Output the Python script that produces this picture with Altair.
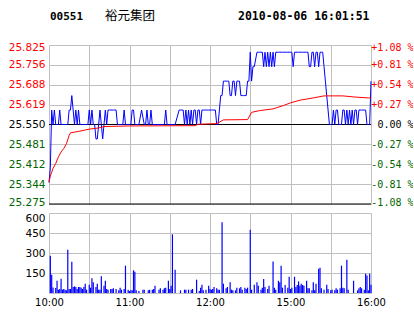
import altair as alt
import pandas as pd

stock_code = "00551"
stock_name = "裕元集团"
timestamp = "2010-08-06 16:01:51"

prev_close = 25.55
price_ticks = [25.275, 25.34375, 25.4125, 25.48125, 25.55, 25.61875, 25.6875, 25.75625, 25.825]
price_tick_labels = ["25.275", "25.344", "25.412", "25.481", "25.550", "25.619", "25.688", "25.756", "25.825"]
pct_tick_labels = ["-1.08 %", "-0.81 %", "-0.54 %", "-0.27 %", "0.00 %", "+0.27 %", "+0.54 %", "+0.81 %", "+1.08 %"]
volume_ticks = [0, 150, 300, 450, 600]
grid_minutes = [0, 30, 60, 90, 120, 150, 180, 210, 240]
time_labels = {0: "10:00", 60: "11:00", 120: "12:00", 180: "15:00", 240: "16:00"}
black_lines = [25.55, 25.275]

minutes = list(range(241))

price = [
    25.35, 25.40, 25.60, 25.55, 25.60, 25.55, 25.55, 25.55, 25.60, 25.55,
    25.55, 25.55, 25.55, 25.55, 25.55, 25.60, 25.60, 25.65, 25.60, 25.55,
    25.60, 25.55, 25.60, 25.55, 25.55, 25.55, 25.55, 25.55, 25.55, 25.55,
    25.60, 25.55, 25.60, 25.55, 25.55, 25.50, 25.50, 25.55, 25.60, 25.55,
    25.50, 25.55, 25.60, 25.55, 25.60, 25.60, 25.60, 25.60, 25.60, 25.60,
    25.60, 25.55, 25.55, 25.55, 25.55, 25.55, 25.60, 25.55, 25.55, 25.55,
    25.55, 25.55, 25.60, 25.60, 25.55, 25.55, 25.55, 25.55, None, 25.60,
    None, 25.55, 25.55, 25.60, 25.55, 25.55, 25.60, 25.55, 25.55, 25.55,
    25.55, 25.55, 25.55, 25.55, 25.55, 25.55, 25.55, 25.60, 25.55, 25.55,
    25.55, 25.55, 25.55, 25.55, 25.55, None, None, 25.60, 25.60, 25.60,
    25.60, 25.55, 25.60, 25.55, 25.60, 25.55, 25.60, 25.55, 25.60, 25.60,
    25.55, 25.60, 25.60, 25.55, 25.60, 25.60, 25.60, 25.60, 25.60, 25.60,
    25.60, 25.60, 25.60, 25.60, 25.60, 25.55, 25.55, 25.60, 25.65, 25.65,
    25.70, 25.70, 25.70, 25.70, 25.70, 25.65, 25.65, 25.70, 25.70, 25.65,
    25.70, 25.70, 25.70, 25.65, 25.65, 25.65, 25.65, 25.65, 25.70, 25.70,
    25.80, 25.70, 25.75, 25.75, None, 25.80, 25.80, 25.80, 25.80, 25.80,
    25.75, 25.80, 25.75, 25.80, 25.75, 25.80, 25.75, 25.80, 25.75, 25.80,
    25.80, 25.80, 25.80, 25.80, 25.80, 25.80, 25.80, 25.80, 25.80, 25.80,
    25.80, 25.80, 25.75, 25.80, 25.80, 25.80, 25.80, 25.80, 25.80, 25.80,
    25.80, 25.80, 25.80, 25.80, 25.75, 25.75, 25.80, 25.80, 25.75, 25.80,
    25.80, 25.75, 25.80, 25.80, 25.80, 25.75, 25.70, 25.65, 25.60, 25.55,
    25.55, 25.55, 25.60, 25.55, 25.60, 25.60, 25.55, 25.55, 25.55, 25.60,
    25.60, 25.55, 25.60, 25.55, 25.60, 25.55, 25.60, 25.55, 25.60, 25.60,
    25.55, 25.60, 25.60, 25.60, 25.60, 25.60, 25.60, 25.55, 25.55, 25.55,
    25.70,
]

avg_minutes = [0, 1, 3, 5, 7, 9, 11, 13, 15, 16, 23, 30, 37, 41, 60, 109, 111,
               125, 130, 148, 151, 157, 167, 175, 180, 187, 197, 205, 219, 228, 238, 240]
avg_price = [25.350, 25.372, 25.398, 25.415, 25.438, 25.455, 25.467, 25.484, 25.512,
             25.521, 25.527, 25.534, 25.538, 25.543, 25.545, 25.546, 25.551, 25.553,
             25.566, 25.567, 25.592, 25.598, 25.604, 25.616, 25.625, 25.634, 25.642,
             25.649, 25.649, 25.645, 25.642, 25.642]

volume = [
    0, 280, 137, 42, 0, 37, 92, 25, 30, 107,
    25, 30, 25, 20, 325, 30, 30, 235, 45, 50,
    45, 30, 45, 45, 40, 30, 45, 70, 25, 0,
    62, 40, 110, 80, 0, 45, 70, 25, 25, 125,
    0, 55, 92, 30, 25, 0, 30, 30, 35, 0,
    30, 0, 20, 40, 25, 0, 30, 205, 0, 25,
    15, 20, 20, 170, 160, 20, 0, 15, 0, 0,
    25, 25, 0, 0, 20, 25, 0, 25, 30, 55,
    0, 0, 25, 35, 0, 25, 35, 40, 0, 92,
    30, 55, 440, 0, 175, 0, 0, 0, 20, 0,
    0, 25, 25, 0, 25, 0, 25, 30, 0, 0,
    100, 0, 15, 40, 62, 20, 0, 25, 0, 55,
    30, 25, 30, 45, 0, 35, 25, 25, 0, 530,
    70, 0, 35, 45, 0, 80, 25, 20, 0, 20,
    40, 0, 35, 45, 25, 0, 40, 30, 40, 0,
    475, 25, 0, 62, 0, 80, 55, 0, 25, 40,
    105, 45, 0, 30, 55, 0, 0, 237, 40, 25,
    0, 92, 80, 205, 40, 0, 60, 0, 40, 122,
    30, 40, 0, 122, 45, 60, 87, 55, 70, 60,
    55, 0, 92, 35, 35, 0, 20, 80, 20, 70,
    0, 182, 190, 35, 0, 25, 0, 62, 30, 0,
    20, 25, 0, 20, 35, 25, 0, 35, 205, 40,
    35, 0, 250, 25, 0, 0, 0, 92, 0, 0,
    20, 35, 45, 35, 0, 25, 145, 132, 20, 145,
    62,
]

GRID = "#c0c0c0"
RED = "#ff0000"
GREEN = "#006600"
BLUE = "#0000ff"
LABEL_FONT = "DejaVu Sans"
MONO = "DejaVu Sans Mono"

df_price = pd.DataFrame({"t": minutes, "price": price}).dropna()
df_avg = pd.DataFrame({"t": avg_minutes, "avg": avg_price})
df_vol = pd.DataFrame({"t": minutes, "vol": volume})
df_vol = df_vol[df_vol["vol"] > 0]
df_lines = pd.DataFrame({"level": black_lines})


def lookup_expr(values, labels):
    return " : ".join(f"datum.value == {v} ? '{l}'" for v, l in zip(values, labels)) + " : ''"


color_expr = {"expr": f"datum.value > {prev_close + 0.001} ? '{RED}' : (datum.value < {prev_close - 0.001} ? '{GREEN}' : '#000000')"}

xscale = alt.Scale(domain=[0, 240], nice=False, zero=False)
yscale = alt.Scale(domain=[25.275, 25.825], nice=False, zero=False)

x_grid_axis = alt.Axis(values=grid_minutes, labels=False, ticks=False, domain=False,
                       title=None, grid=True, gridColor=GRID, gridWidth=1)

left_axis = alt.Axis(
    values=price_ticks, labelExpr=lookup_expr(price_ticks, price_tick_labels), title=None,
    ticks=False, domain=False, orient="left", labelPadding=4, labelFont=LABEL_FONT,
    labelFontSize=10.5, labelColor=color_expr, grid=True, gridColor=GRID, gridWidth=1,
    labelFlush=True, labelFlushOffset=3,
)

right_axis = alt.Axis(
    values=price_ticks, labelExpr=lookup_expr(price_ticks, pct_tick_labels), title=None,
    ticks=False, domain=False, orient="right", labelAlign="right", labelPadding=42,
    labelFont=MONO, labelFontSize=10, labelColor=color_expr, grid=False,
    labelFlush=True, labelFlushOffset=3,
)

rules = alt.Chart(df_lines).mark_rule(color="#000000", strokeWidth=1).encode(
    y=alt.Y("level:Q", scale=yscale, axis=None)
)
blue_line = alt.Chart(df_price).mark_line(color=BLUE, strokeWidth=1, interpolate="linear").encode(
    x=alt.X("t:Q", scale=xscale, axis=x_grid_axis),
    y=alt.Y("price:Q", scale=yscale, axis=left_axis),
)
red_line = alt.Chart(df_avg).mark_line(color=RED, strokeWidth=1).encode(
    x=alt.X("t:Q", scale=xscale, axis=x_grid_axis),
    y=alt.Y("avg:Q", scale=yscale, axis=right_axis),
)

title_code = alt.Chart(pd.DataFrame({"txt": [stock_code]})).mark_text(
    font=MONO, fontSize=11, fontWeight="bold", align="left", baseline="middle", color="#000000"
).encode(text="txt:N", x=alt.value(1), y=alt.value(-28))
title_name = alt.Chart(pd.DataFrame({"txt": [stock_name]})).mark_text(
    font="Noto Sans CJK SC", fontSize=12.5, align="left", baseline="middle", color="#000000"
).encode(text="txt:N", x=alt.value(56), y=alt.value(-29))
title_time = alt.Chart(pd.DataFrame({"txt": [timestamp]})).mark_text(
    font=MONO, fontSize=11.5, fontWeight="bold", align="left", baseline="middle", color="#000000"
).encode(text="txt:N", x=alt.value(189), y=alt.value(-28))

price_panel = alt.layer(rules, blue_line, red_line, title_code, title_name, title_time).resolve_axis(
    y="independent"
).properties(width=322, height=159)

vol_panel = alt.Chart(df_vol).mark_rule(color=BLUE, strokeWidth=1.2).encode(
    x=alt.X("t:Q", scale=xscale, axis=alt.Axis(
        values=grid_minutes, labelExpr=lookup_expr(list(time_labels.keys()), list(time_labels.values())),
        title=None, ticks=False, domain=False, grid=True, gridColor=GRID, labelFont=LABEL_FONT,
        labelFontSize=10, labelColor="#000000", labelPadding=4, labelFlush=False, labelOverlap=False)),
    y=alt.Y("vol:Q", scale=alt.Scale(domain=[0, 600], nice=False), axis=alt.Axis(
        values=volume_ticks, labelExpr="datum.value == 0 ? '' : datum.label", title=None,
        ticks=False, domain=False, grid=True, gridColor=GRID, labelFont=LABEL_FONT,
        labelFontSize=10.5, labelColor="#000000", labelPadding=4, labelFlush=True)),
    y2=alt.datum(0),
).properties(width=322, height=80)

chart = alt.vconcat(price_panel, vol_panel, spacing=5).properties(
    padding={"left": 8, "top": 10, "right": 0, "bottom": 0},
    background="#ffffff",
).configure_view(stroke=None)

chart.save("out.html", embed_options={"renderer": "svg", "actions": False})
